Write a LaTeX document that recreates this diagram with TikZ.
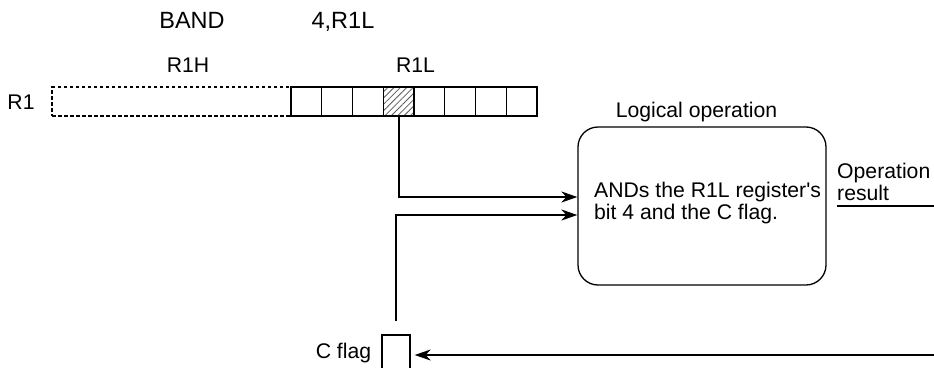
\documentclass[tikz,border=0pt]{standalone}
\usepackage{fontspec}
\setmainfont{Liberation Sans}
\newfontfamily\plainsans{Liberation Sans}
\usetikzlibrary{arrows.meta,positioning,calc,patterns.meta}

\begin{document}
\begin{tikzpicture}[x=1pt,y=-1pt,>={Stealth[length=16pt,width=11pt,inset=5pt]},
  font=\plainsans\fontsize{21.2}{22}\selectfont,
  txt/.style={inner sep=0pt},
  big/.style={inner sep=0pt,font=\plainsans\fontsize{23.5}{24}\selectfont},
  cell/.style={draw,line width=1.3pt,minimum width=30.75pt,minimum height=29pt,inner sep=0pt,outer sep=0pt},
  half/.style={draw,line width=1.3pt,dash pattern=on 3.5pt off 2.5pt,minimum width=239pt,minimum height=29pt,inner sep=0pt},
  opbox/.style={draw,line width=1.3pt,rounded corners=20pt,minimum width=248pt,minimum height=158pt},
  flagbox/.style={draw,line width=1.3pt,minimum width=28pt,minimum height=34pt,inner sep=0pt},
  wire/.style={line width=1.8pt}]
\useasboundingbox (0,0) rectangle (934,367);
% instruction
\node[big,anchor=base] (mn) at (192,28) {BAND};
\node[big,anchor=base] (arg) at (343,28) {4,R1L};
% register R1
\node[half] (r1h) at (171.5,101.5) {};
\foreach \i in {0,...,7}
  \node[cell] (c\i) at ({306.4+30.75*\i},101.5) {};
\fill[pattern={Lines[angle=45,distance=4.5pt,line width=0.8pt]},pattern color=black!65]
  (c3.south west) rectangle (c3.north east);
\draw[line width=1.3pt] (c3.south west) rectangle (c3.north east);
\node[txt,anchor=base] (r1) at (21,109) {R1};
\node[txt,anchor=base] (r1hl) at (188,72) {R1H};
\node[txt,anchor=base] (r1ll) at (415.5,72) {R1L};
% logical operation
\node[opbox] (op) at (702,206) {};
\node[txt,anchor=base] (optitle) at (696.5,117) {Logical operation};
\node[txt,anchor=north west,align=left] (optext) at (594,181.5) {ANDs the R1L register's\\bit 4 and the C flag.};
% result
\node[txt,anchor=north west,align=left] (res) at (837,162.5) {Operation\\result};
\coordinate (resend) at (934,206);
\draw[wire] (res.west |- resend) -- (resend);
% C flag
\node[flagbox] (cflag) at (396,352) {};
\node[txt,anchor=base east] (cflagl) at ([xshift=-10pt]cflag.west |- 0,358) {C flag};
\coordinate (feed) at (934,355);
\coordinate (cup) at ([yshift=13pt]cflag.north);
% connectors
\draw[wire,->] (c3.south) |- ([yshift=9pt]op.west);
\draw[wire,->] (cup) |- ([yshift=-9pt]op.west);
\draw[wire,->] (feed) -- ([xshift=4pt]cflag.east |- feed);
\end{tikzpicture}
\end{document}
